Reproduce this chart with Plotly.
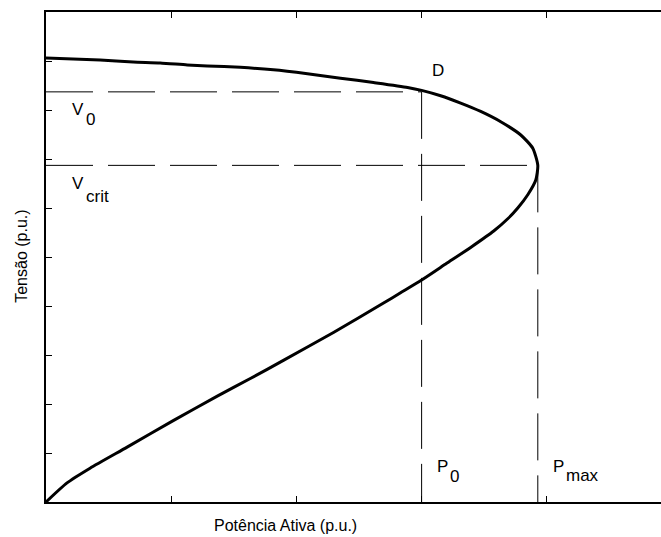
import plotly.graph_objects as go

# PV (nose) curve: active power vs. voltage, upper and lower branches
p_curve = [0.0, 0.432, 0.696, 0.912, 1.128, 1.288, 1.552, 1.816, 2.088, 2.352, 2.616,
           2.888, 3.0, 3.152, 3.312, 3.472, 3.632, 3.792, 3.888, 3.928,
           3.912, 3.848, 3.768, 3.688, 3.576, 3.4, 3.2, 3.0, 2.832, 2.696,
           2.296, 1.896, 1.632, 1.368, 1.016, 0.648, 0.352, 0.168, 0.0]
v_curve = [0.906, 0.902, 0.898, 0.896, 0.892, 0.890, 0.887, 0.882, 0.874, 0.865, 0.856,
           0.846, 0.840, 0.829, 0.814, 0.797, 0.776, 0.749, 0.722, 0.687,
           0.657, 0.627, 0.600, 0.578, 0.553, 0.521, 0.487, 0.453, 0.427, 0.406,
           0.346, 0.289, 0.252, 0.216, 0.166, 0.112, 0.069, 0.039, 0.0]

# Operating point and point of maximum loadability
P0, V0 = 3.0, 0.837
Pmax, Vcrit = 3.928, 0.687

x_ticks = [0, 1, 2, 3, 4]
y_ticks = [round(0.1 * k, 1) for k in range(11)]

# point labels: (text, x, y) — main letter and its subscript drawn separately
point_labels = [
    ("D", 3.064, 0.881),
    ("V", 0.192, 0.801), ("0", 0.304, 0.780),
    ("V", 0.192, 0.649), ("crit", 0.304, 0.624),
    ("P", 3.104, 0.072), ("0", 3.208, 0.053),
    ("P", 4.032, 0.072), ("max", 4.136, 0.055),
]

FONT = "Liberation Sans, Arial, sans-serif"
dash = "47px,15px"
guide = dict(color="black", width=1, dash=dash)

fig = go.Figure()

# guide lines for the operating point and the critical point
fig.add_trace(go.Scatter(x=[0, P0], y=[V0, V0], mode="lines", line=guide, hoverinfo="skip"))
fig.add_trace(go.Scatter(x=[P0, P0], y=[V0, 0], mode="lines", line=guide, hoverinfo="skip"))
fig.add_trace(go.Scatter(x=[0, Pmax], y=[Vcrit, Vcrit], mode="lines", line=guide, hoverinfo="skip"))
fig.add_trace(go.Scatter(x=[Pmax, Pmax], y=[Vcrit, 0], mode="lines", line=guide, hoverinfo="skip"))

# the curve itself
fig.add_trace(go.Scatter(x=p_curve, y=v_curve, mode="lines",
                         line=dict(color="black", width=3, shape="spline", smoothing=0.6),
                         hoverinfo="skip"))

for text, x, y in point_labels:
    fig.add_annotation(x=x, y=y, text=text, showarrow=False, xanchor="left", yanchor="middle",
                       font=dict(family=FONT, size=17, color="black"))

# axis titles, positioned relative to the plotting area
fig.add_annotation(xref="paper", yref="paper", x=0.389, y=-0.047,
                   text="Potência Ativa (p.u.)", showarrow=False,
                   xanchor="center", yanchor="middle",
                   font=dict(family=FONT, size=16, color="black"))
fig.add_annotation(xref="paper", yref="paper", x=-0.041, y=0.502,
                   text="Tensão (p.u.)", textangle=-90, showarrow=False,
                   xanchor="center", yanchor="middle",
                   font=dict(family=FONT, size=16, color="black"))

axis_common = dict(showgrid=False, zeroline=False, showline=True, linecolor="black",
                   ticks="inside", ticklen=6, tickcolor="black", showticklabels=False)

fig.update_layout(
    width=661, height=537,
    margin=dict(l=46, r=0, t=12, b=35),
    plot_bgcolor="white", paper_bgcolor="white",
    showlegend=False,
    font=dict(family=FONT, size=16, color="black"),
    xaxis=dict(range=[0, 4.912], tickvals=x_ticks, mirror="ticks", linewidth=1.5,
               **axis_common),
    yaxis=dict(range=[0, 1.0], tickvals=y_ticks, linewidth=2, **axis_common),
)

fig.write_html("out.html")
